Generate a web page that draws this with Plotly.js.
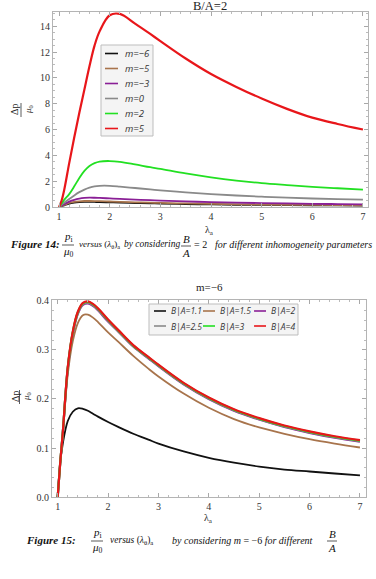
<!DOCTYPE html>
<html>
<head>
<meta charset="utf-8">
<script src="https://cdn.plot.ly/plotly-3.0.1.min.js"></script>
<style>
html, body { margin: 0; padding: 0; background: #fff; }
#chart { width: 376px; height: 579px; }
</style>
</head>
<body>
<div id="chart"></div>
<script>
// Stretch (lambda_theta)_a sample points shared by every curve
const lambda = [1, 1.05, 1.1, 1.2, 1.3, 1.4, 1.5, 1.6, 1.7, 1.8, 2.0, 2.2, 2.5, 2.8, 3.0, 3.5, 4.0, 4.5, 5.0, 5.5, 6.0, 6.5, 7.0];

// Figure 14: B/A = 2, different inhomogeneity parameters m
const mLabels = ['m=\u22126', 'm=\u22125', 'm=\u22123', 'm=0', 'm=2', 'm=5'];
const mColors = ['#111111', '#a8744c', '#8a1f96', '#8a8a8a', '#22e022', '#e8161a'];
const mNeg6 = [0, 0.069, 0.129, 0.262, 0.334, 0.374, 0.392, 0.395, 0.39, 0.381, 0.358, 0.338, 0.307, 0.283, 0.267, 0.23, 0.2, 0.176, 0.158, 0.143, 0.131, 0.121, 0.113];
const mNeg5 = [0, 0.082, 0.153, 0.31, 0.395, 0.442, 0.463, 0.466, 0.46, 0.45, 0.424, 0.4, 0.364, 0.335, 0.316, 0.274, 0.239, 0.211, 0.19, 0.172, 0.158, 0.146, 0.136];
const mNeg3 = [0, 0.12, 0.22, 0.42, 0.56, 0.65, 0.7, 0.72, 0.715, 0.7, 0.665, 0.63, 0.575, 0.527, 0.497, 0.432, 0.378, 0.336, 0.302, 0.273, 0.248, 0.227, 0.207];
const mZero = [0, 0.18, 0.33, 0.62, 0.9, 1.15, 1.35, 1.5, 1.6, 1.64, 1.64, 1.58, 1.47, 1.36, 1.29, 1.13, 1.0, 0.89, 0.8, 0.72, 0.66, 0.61, 0.57];
const mPos2 = [0, 0.27, 0.55, 1.0, 1.6, 2.25, 2.8, 3.18, 3.4, 3.52, 3.56, 3.5, 3.3, 3.08, 2.95, 2.6, 2.3, 2.05, 1.85, 1.7, 1.56, 1.45, 1.35];
const mPos5 = [0, 0.5, 1.3, 3.4, 5.4, 7.3, 9.1, 10.9, 12.5, 13.6, 14.85, 14.95, 14.2, 13.4, 12.85, 11.5, 10.3, 9.3, 8.4, 7.6, 6.92, 6.43, 6.0];
const mSeries = [mNeg6, mNeg5, mNeg3, mZero, mPos2, mPos5];

// Figure 15: m = -6, different B/A ratios
const baLabels = ['B|A=1.1', 'B|A=1.5', 'B|A=2', 'B|A=2.5', 'B|A=3', 'B|A=4'];
const baColors = ['#111111', '#a8744c', '#8a1f96', '#8a8a8a', '#22e022', '#e8161a'];
const ba11 = [0, 0.07, 0.108, 0.155, 0.174, 0.181, 0.18, 0.176, 0.17, 0.164, 0.153, 0.143, 0.129, 0.117, 0.109, 0.093, 0.08, 0.07, 0.062, 0.056, 0.052, 0.048, 0.044];
const ba15 = [0, 0.068, 0.125, 0.25, 0.318, 0.355, 0.371, 0.372, 0.366, 0.357, 0.336, 0.317, 0.288, 0.262, 0.246, 0.211, 0.182, 0.159, 0.142, 0.129, 0.118, 0.109, 0.101];
const ba20 = [0, 0.069, 0.129, 0.262, 0.334, 0.374, 0.392, 0.395, 0.39, 0.381, 0.358, 0.338, 0.307, 0.283, 0.267, 0.23, 0.2, 0.176, 0.158, 0.143, 0.131, 0.121, 0.113];
const ba25 = [0, 0.0695, 0.1295, 0.263, 0.3355, 0.3755, 0.3935, 0.3965, 0.3915, 0.3825, 0.3595, 0.339, 0.308, 0.284, 0.268, 0.231, 0.201, 0.177, 0.159, 0.144, 0.132, 0.122, 0.114];
const ba30 = [0, 0.07, 0.13, 0.264, 0.337, 0.377, 0.395, 0.398, 0.393, 0.384, 0.361, 0.34, 0.309, 0.285, 0.269, 0.232, 0.202, 0.178, 0.16, 0.145, 0.133, 0.123, 0.115];
const ba40 = [0, 0.07, 0.13, 0.265, 0.338, 0.378, 0.396, 0.399, 0.394, 0.385, 0.362, 0.341, 0.31, 0.286, 0.27, 0.233, 0.203, 0.179, 0.161, 0.146, 0.134, 0.124, 0.116];
const baSeries = [ba11, ba15, ba20, ba25, ba30, ba40];

const W = 376, H = 579;
const px = v => v / W;
const py = v => 1 - v / H;
const serif = 'Liberation Serif, Times New Roman, serif';
const sans = 'Open Sans, DejaVu Sans, sans-serif';

const traces = [];
mSeries.forEach((ys, i) => traces.push({
  type: 'scatter', mode: 'lines', x: lambda, y: ys, xaxis: 'x', yaxis: 'y',
  line: { color: mColors[i], width: i === 5 ? 2.2 : 1.8, shape: 'spline', smoothing: 1 },
  name: mLabels[i], showlegend: false, hoverinfo: 'skip'
}));
baSeries.forEach((ys, i) => traces.push({
  type: 'scatter', mode: 'lines', x: lambda, y: ys, xaxis: 'x2', yaxis: 'y2',
  line: { color: baColors[i], width: i >= 2 ? 2.2 : 1.8, shape: 'spline', smoothing: 1 },
  name: baLabels[i], showlegend: false, hoverinfo: 'skip'
}));

function frameAxis(extra) {
  return Object.assign({
    showline: true, linecolor: '#b4b4b4', linewidth: 1, mirror: 'ticks',
    ticks: 'inside', ticklen: 4, tickwidth: 1, tickcolor: '#a8a8a8',
    showgrid: false, zeroline: false, fixedrange: true,
    tickfont: { family: serif, size: 10, color: '#333' }
  }, extra);
}

const shapes = [];
const annotations = [];

function text(t, x, y, opts) {
  annotations.push(Object.assign({
    text: t, x: px(x), y: py(y), xref: 'paper', yref: 'paper',
    showarrow: false, xanchor: 'center', yanchor: 'middle',
    font: { family: serif, size: 10, color: '#222' }
  }, opts || {}));
}
function hline(x0, x1, y, color, width) {
  shapes.push({ type: 'line', xref: 'paper', yref: 'paper',
    x0: px(x0), x1: px(x1), y0: py(y), y1: py(y),
    line: { color: color, width: width } });
}
function vline(x, y0, y1, color, width) {
  shapes.push({ type: 'line', xref: 'paper', yref: 'paper',
    x0: px(x), x1: px(x), y0: py(y0), y1: py(y1),
    line: { color: color, width: width } });
}
function box(x0, x1, y0, y1) {
  shapes.push({ type: 'rect', xref: 'paper', yref: 'paper',
    x0: px(x0), x1: px(x1), y0: py(y1), y1: py(y0),
    fillcolor: '#f4f4f4', line: { color: '#bdbdbd', width: 1 } });
}

// Panel titles and axis titles
text('B/A=2', 210, 6, { font: { family: serif, size: 12.5, color: '#222' } });
text('m=\u22126', 209, 287, { font: { family: serif, size: 11, color: '#222' } });
text('\u03bb<sub>a</sub>', 210, 231, { font: { family: serif, size: 10, color: '#222' } });
text('\u03bb<sub>a</sub>', 208, 518, { font: { family: serif, size: 10, color: '#222' } });

// Rotated fraction  Δp / μ0  on each vertical axis
[[110, 15, 29], [397, 15, 26]].forEach(([yc, xn, xd]) => {
  text('\u0394p', xn, yc, { textangle: -90, font: { family: serif, size: 10, color: '#222' } });
  text('<i>\u03bc</i><sub>0</sub>', xd, yc, { textangle: -90, font: { family: serif, size: 9, color: '#222' } });
  vline((xn + xd) / 2 - 1, yc - 7, yc + 7, '#333', 0.8);
});

// Legend of Figure 14
box(101, 153, 45, 136);
mLabels.forEach((lab, i) => {
  const y = 53.5 + i * 15;
  hline(105, 118, y, mColors[i], 1.6);
  text('<i>' + lab + '</i>', 123, y, { xanchor: 'left', font: { family: sans, size: 9.5, color: '#333' } });
});

// Legend of Figure 15
box(149, 298, 304, 335);
baLabels.forEach((lab, i) => {
  const col = i % 3, row = Math.floor(i / 3);
  const x0 = [154, 203, 254][col];
  const y = [311, 326][row];
  hline(x0, x0 + 12, y, baColors[i], 1.6);
  text('<i>' + lab + '</i>', x0 + 15, y, { xanchor: 'left', font: { family: sans, size: 8.5, color: '#333' } });
});

// Captions: [text, left x, font size]
function caption(y, label, labelRight, fracX, parts, baX, baLine) {
  text('<b><i>' + label + '</i></b>', labelRight, y, { xanchor: 'right', font: { family: serif, size: 11, color: '#111' } });
  text('<i>p</i><sub>i</sub>', fracX, y - 7, { font: { family: serif, size: 11, color: '#111' } });
  text('<i>\u03bc</i><sub>0</sub>', fracX, y + 8, { font: { family: serif, size: 11, color: '#111' } });
  hline(fracX - 6, fracX + 6, y + 1, '#111', 0.7);
  parts.forEach(([t, x, s]) => text(t, x, y, { xanchor: 'left', font: { family: serif, size: s, color: '#111' } }));
  text('<i>B</i>', baX, y - 5 + baLine, { font: { family: serif, size: 11, color: '#111' } });
  text('<i>A</i>', baX, y + 9 + baLine, { font: { family: serif, size: 11, color: '#111' } });
  hline(baX - 5, baX + 5, y + 2 + baLine, '#111', 0.7);
}
caption(244, 'Figure 14:', 62, 68,
  [['<i>versus</i> (<i>\u03bb</i><sub>\u03b8</sub>)<sub>a</sub>', 77, 9],
   ['<i>by considering</i>', 122, 9.5],
   ['= 2', 192, 10],
   ['<i>for different inhomogeneity parameters</i>', 213, 10]],
  186, 0);
caption(540, 'Figure 15:', 78, 97,
  [['<i>versus</i> (<i>\u03bb</i><sub>\u03b8</sub>)<sub>a</sub>', 108, 9.5],
   ['<i>by considering m</i> = \u22126 <i>for different</i>', 170, 10]],
  332, -1);

const layout = {
  width: W, height: H,
  margin: { l: 0, r: 0, t: 0, b: 0 },
  paper_bgcolor: '#fff', plot_bgcolor: '#fff',
  showlegend: false,
  xaxis: frameAxis({ domain: [px(53), px(368)], range: [0.88, 7.1], anchor: 'y',
    tick0: 1, dtick: 1, minor: { ticks: 'inside', ticklen: 2, tickcolor: '#bbbbbb', dtick: 0.2, tick0: 1, showgrid: false } }),
  yaxis: frameAxis({ domain: [py(207), py(12)], range: [0, 15.1], anchor: 'x',
    tick0: 0, dtick: 2, minor: { ticks: 'inside', ticklen: 2, tickcolor: '#bbbbbb', dtick: 0.5, showgrid: false } }),
  xaxis2: frameAxis({ domain: [px(52), px(366)], range: [0.887, 7.12], anchor: 'y2',
    tick0: 1, dtick: 1, minor: { ticks: 'inside', ticklen: 2, tickcolor: '#bbbbbb', dtick: 0.2, tick0: 1, showgrid: false } }),
  yaxis2: frameAxis({ domain: [py(497), py(300)], range: [0, 0.402], anchor: 'x2',
    tick0: 0, dtick: 0.1, tickformat: '.1f', minor: { ticks: 'inside', ticklen: 2, tickcolor: '#bbbbbb', dtick: 0.02, showgrid: false } }),
  shapes: shapes,
  annotations: annotations
};

Plotly.newPlot('chart', traces, layout, { staticPlot: true, displayModeBar: false });
</script>
</body>
</html>
